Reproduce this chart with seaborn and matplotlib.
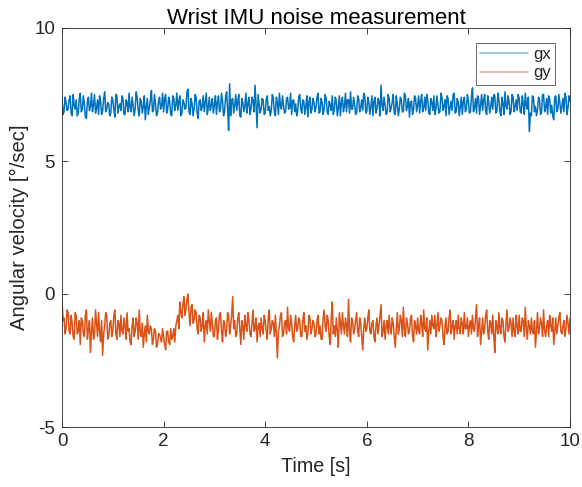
import numpy as np
import pandas as pd
import matplotlib
matplotlib.use("Agg")
import matplotlib.pyplot as plt
import seaborn as sns
from matplotlib.lines import Line2D

# ---- data ----
# samples at t = 0, 0.04, 0.08, ... 10.0
gx_even = [
    7.35, 6.85, 7.20, 6.95, 7.45, 6.70, 7.10, 7.30, 6.80, 7.55, 6.95, 7.15, 6.60, 7.40, 7.05, 6.85, 7.50, 7.00, 6.75, 7.25, 6.90, 7.60, 6.95, 7.15, 6.80,
    7.30, 6.65, 7.45, 7.05, 6.90, 7.35, 6.75, 7.20, 7.55, 6.85, 7.10, 6.95, 7.40, 6.70, 7.25, 7.05, 6.55, 7.35, 7.00, 7.65, 6.90, 7.15, 6.80, 7.40, 7.05,
    6.85, 7.50, 6.95, 7.25, 6.70, 7.35, 7.10, 6.90, 7.45, 6.80, 7.20, 7.00, 7.70, 6.75, 7.15, 6.95, 7.40, 6.60, 7.30, 7.05, 6.85, 7.55, 7.00, 6.90, 7.35,
    7.10, 6.75, 7.45, 6.95, 7.25, 6.85, 7.60, 6.15, 6.70, 7.35, 7.10, 6.90, 7.50, 6.65, 7.20, 7.05, 6.80, 7.40, 6.95, 7.25, 7.85, 6.25, 7.15, 6.95, 7.30,
    6.80, 7.45, 7.05, 6.90, 7.35, 6.70, 7.20, 7.55, 6.95, 7.10, 6.85, 7.40, 7.00, 6.75, 7.30, 7.15, 6.90, 7.50, 6.80, 7.25, 7.05, 6.65, 7.40, 6.95, 7.20,
    7.00, 7.55, 6.85, 7.20, 6.95, 7.35, 6.75, 7.10, 7.45, 6.90, 7.25, 7.00, 6.70, 7.40, 7.05, 6.85, 7.30, 7.60, 6.95, 7.15, 6.80, 7.35, 7.00, 6.90, 7.45,
    6.85, 7.20, 7.05, 6.70, 7.40, 6.95, 7.25, 7.85, 6.90, 7.10, 6.80, 7.35, 7.00, 7.50, 6.75, 7.15, 6.95, 7.30, 6.85, 7.45, 7.05, 6.65, 7.25, 6.95, 7.35,
    7.10, 6.80, 7.50, 7.00, 6.90, 7.30, 6.75, 7.20, 7.45, 6.95, 7.10, 6.85, 7.40, 7.05, 6.70, 7.35, 7.00, 6.90, 7.55, 6.85, 7.20, 7.05, 6.75, 7.40, 6.95,
    7.25, 6.85, 7.75, 7.00, 6.80, 7.35, 7.10, 6.90, 7.50, 6.75, 7.20, 7.05, 6.95, 7.45, 6.85, 7.30, 6.70, 7.15, 7.60, 6.95, 7.25, 6.85, 7.40, 7.05, 6.90,
    7.35, 6.80, 7.15, 7.55, 6.95, 6.10, 6.70, 7.40, 7.05, 6.90, 7.30, 6.85, 7.50, 7.00, 6.75, 7.35, 7.10, 6.55, 7.45, 6.95, 7.20, 7.05, 6.85, 7.40, 7.00,
    7.25,
]
# samples at t = 0.02, 0.06, ... 9.98
gx_odd = [
    6.75, 7.40, 6.90, 7.30, 6.80, 7.50, 6.95, 6.70, 7.35, 6.85, 7.45, 6.65, 7.25, 6.90, 7.55, 7.10, 6.80, 7.30, 7.45, 6.75, 7.35, 6.85, 7.20, 6.70, 7.40,
    6.95, 7.50, 6.80, 7.15, 7.45, 6.75, 7.30, 6.85, 7.00, 7.40, 6.70, 7.60, 6.90, 7.35, 6.80, 7.45, 7.05, 6.75, 7.30, 6.85, 7.50, 6.70, 7.25, 6.95, 7.55,
    7.35, 6.80, 7.40, 6.75, 7.45, 6.90, 7.55, 7.25, 6.70, 7.30, 6.95, 7.60, 6.85, 7.35, 6.70, 7.50, 6.80, 7.25, 6.90, 7.45, 7.20, 6.75, 7.40, 7.10, 6.80,
    7.45, 7.20, 6.85, 7.55, 6.70, 7.40, 6.95, 7.90, 7.30, 6.80, 7.50, 7.25, 6.70, 7.35, 6.85, 7.55, 7.15, 6.75, 7.40, 6.85, 7.10, 7.50, 6.80, 7.35, 6.75,
    7.30, 6.90, 6.70, 7.50, 6.85, 7.40, 6.75, 7.05, 7.45, 6.80, 7.35, 6.95, 7.55, 7.25, 6.85, 6.70, 7.40, 6.95, 7.30, 6.75, 7.45, 7.20, 6.80, 7.35, 6.85,
    7.40, 6.80, 7.35, 6.75, 7.50, 6.85, 7.25, 6.90, 6.75, 7.40, 6.70, 7.45, 7.20, 6.85, 7.55, 7.30, 6.80, 6.95, 7.40, 6.75, 7.45, 6.85, 7.30, 7.55, 6.80,
    7.40, 6.75, 7.45, 7.25, 6.80, 7.35, 6.70, 7.10, 7.40, 6.75, 7.50, 6.85, 7.20, 6.80, 7.45, 6.70, 7.40, 6.85, 7.55, 6.90, 7.35, 7.20, 6.75, 7.45, 6.85,
    7.45, 7.25, 6.85, 7.40, 7.50, 6.80, 7.35, 6.90, 6.75, 7.45, 6.80, 7.55, 6.90, 7.30, 7.45, 6.75, 7.25, 7.50, 6.80, 7.35, 6.70, 7.40, 7.25, 6.85, 7.50,
    6.80, 7.40, 6.85, 7.35, 7.45, 6.75, 7.50, 7.30, 6.85, 7.45, 6.80, 7.40, 7.50, 6.80, 7.55, 6.85, 7.40, 6.75, 7.05, 7.45, 6.75, 7.50, 6.85, 7.30, 7.50,
    6.85, 7.45, 6.75, 7.10, 7.40, 6.80, 7.45, 6.85, 6.70, 7.40, 6.75, 7.50, 6.85, 7.35, 7.45, 6.80, 6.70, 7.40, 6.85, 7.50, 6.80, 7.35, 7.55, 6.75, 7.45,
]
gy_even = [
    -0.20, -0.90, -1.30, -0.70, -1.50, -1.10, -1.70, -0.80, -1.40, -1.90, -1.00, -1.60, -0.60, -1.30, -2.20, -0.90, -1.50, -1.10, -0.70, -1.80, -2.30, -1.20, -0.80, -1.60, -1.00,
    -1.40, -0.60, -1.70, -1.10, -0.80, -1.50, -1.20, -0.70, -1.30, -1.90, -0.90, -1.40, -1.10, -0.60, -1.60, -2.00, -1.20, -0.80, -1.50, -1.30, -1.70, -1.40, -1.90, -1.50, -1.80,
    -1.60, -2.10, -1.40, -1.90, -1.70, -1.30, -1.20, -0.80, -0.30, -0.90, -0.10, -0.60, 0.00, -1.20, -0.40, -1.00, -0.70, -1.50, -0.90, -1.20, -1.80, -1.00, -0.60, -1.40, -1.10,
    -1.60, -0.90, -1.30, -0.70, -1.80, -1.10, -1.40, -0.80, -1.20, -0.10, -1.00, -1.50, -0.70, -1.90, -1.20, -0.80, -1.40, -1.00, -1.60, -0.60, -1.30, -1.80, -1.10, -0.90, -1.50,
    -1.00, -1.70, -0.60, -1.30, -1.10, -0.80, -2.40, -1.20, -0.70, -1.50, -1.00, -0.50, -1.40, -1.10, -1.80, -0.80, -1.30, -1.00, -1.60, -0.70, -1.20, -1.50, -0.90, -1.30, -1.10,
    -1.50, -0.80, -1.20, -1.70, -0.60, -1.40, -1.00, -1.90, -0.30, -1.20, -0.90, -2.00, -1.10, -0.70, -1.50, -1.20, -0.20, -1.80, -1.00, -1.30, -0.70, -1.60, -1.10, -2.10, -0.90,
    -1.30, -0.60, -1.50, -1.00, -1.80, -0.90, -1.20, -0.40, -1.40, -1.70, -1.00, -0.80, -1.50, -1.10, -2.00, -0.70, -1.30, -1.00, -0.50, -1.60, -1.10, -1.40, -0.80, -1.80, -1.20,
    -0.90, -1.50, -1.10, -0.60, -1.40, -2.10, -1.00, -0.80, -1.30, -1.60, -0.70, -1.20, -1.00, -1.90, -0.90, -1.40, -0.60, -1.20, -1.70, -1.00, -0.80, -1.50, -1.10, -0.70, -1.30,
    -1.60, -1.00, -0.80, -1.40, -0.40, -1.20, -1.90, -0.90, -1.30, -0.60, -1.70, -1.10, -0.80, -2.20, -1.20, -0.70, -1.50, -1.00, -1.80, -0.60, -1.30, -1.10, -0.90, -1.60, -1.20,
    -0.80, -1.40, -1.00, -0.50, -1.70, -1.20, -0.90, -1.50, -2.00, -0.70, -1.30, -1.10, -0.60, -1.60, -1.00, -0.80, -1.40, -1.90, -0.90, -1.20, -0.70, -1.50, -1.00, -1.30, -1.10,
    -0.90,
]
gy_odd = [
    -1.00, -1.50, -0.60, -1.40, -0.80, -1.60, -0.70, -1.50, -1.00, -0.90, -1.50, -0.80, -1.70, -1.00, -1.40, -1.70, -0.60, -1.60, -1.40, -1.00, -1.50, -0.70, -1.70, -1.10, -1.60,
    -0.80, -1.50, -1.00, -1.60, -1.40, -0.90, -1.70, -1.40, -1.80, -1.20, -1.60, -0.90, -1.70, -1.40, -1.10, -1.50, -1.80, -1.40, -1.20, -1.90, -1.30, -2.00, -1.50, -1.70, -1.30,
    -1.90, -1.40, -1.80, -1.30, -1.60, -1.80, -1.00, -1.30, -0.70, -0.40, -0.80, -0.20, -0.70, -0.50, -1.10, -0.60, -1.30, -0.80, -1.40, -0.70, -1.20, -1.50, -1.00, -0.70, -1.60,
    -1.00, -1.70, -0.80, -1.40, -1.00, -1.60, -0.70, -1.50, -0.80, -1.30, -1.60, -0.90, -1.30, -1.00, -1.70, -1.20, -0.70, -1.50, -1.10, -1.40, -0.90, -1.20, -1.60, -1.30, -0.80,
    -1.40, -0.90, -1.50, -1.00, -1.60, -1.50, -1.40, -0.80, -1.60, -1.10, -1.50, -1.30, -0.80, -1.60, -1.20, -1.40, -0.90, -1.60, -1.00, -1.40, -1.70, -0.80, -1.50, -1.00, -1.60,
    -1.00, -1.50, -1.70, -0.90, -1.20, -0.80, -1.60, -0.90, -1.50, -1.60, -1.40, -0.70, -1.50, -1.20, -0.90, -1.60, -1.40, -0.90, -1.50, -1.00, -1.40, -0.90, -1.60, -1.30, -1.40,
    -0.90, -1.40, -1.10, -1.60, -1.20, -1.50, -0.80, -1.60, -1.00, -1.20, -1.50, -1.30, -0.90, -1.60, -1.30, -1.50, -0.80, -1.60, -1.30, -0.90, -1.50, -0.90, -1.60, -1.00, -1.50,
    -1.40, -0.80, -1.60, -1.30, -0.90, -1.40, -1.50, -1.20, -0.80, -1.20, -1.40, -0.90, -1.60, -1.20, -1.50, -0.90, -1.50, -1.00, -1.20, -1.50, -1.30, -0.90, -1.50, -1.30, -0.90,
    -1.20, -1.50, -1.30, -0.90, -1.60, -0.90, -1.40, -1.50, -0.80, -1.40, -1.00, -1.50, -1.60, -1.00, -1.50, -1.30, -0.90, -1.60, -1.10, -1.40, -0.90, -1.60, -1.40, -0.80, -1.50,
    -1.40, -0.90, -1.60, -1.30, -1.00, -1.50, -1.40, -1.00, -1.40, -1.50, -0.90, -1.60, -1.40, -1.20, -1.60, -1.20, -0.90, -1.40, -1.50, -0.90, -1.40, -1.20, -1.60, -0.80, -1.50,
]
time_step = 0.02
series_names = ["gx", "gy"]
series_colors = ["#0072BD", "#D95319"]
x_ticks = [0, 2, 4, 6, 8, 10]
y_ticks = [-5, 0, 5, 10]


def interleave(even, odd):
    out = []
    for i, v in enumerate(even):
        out.append(v)
        if i < len(odd):
            out.append(odd[i])
    return out


gx = interleave(gx_even, gx_odd)
gy = interleave(gy_even, gy_odd)
time = np.arange(len(gx)) * time_step

df = pd.DataFrame({
    "Time": np.concatenate([time, time]),
    "Value": np.concatenate([gx, gy]),
    "Series": [series_names[0]] * len(gx) + [series_names[1]] * len(gy),
})

sns.set_style("white")
plt.rcParams["font.family"] = ["Liberation Sans", "DejaVu Sans"]

fig = plt.figure(figsize=(5.82, 4.87), dpi=100)
ax = fig.add_axes([62 / 582, 60 / 487, 508 / 582, 399 / 487])

sns.lineplot(data=df, x="Time", y="Value", hue="Series",
             palette=dict(zip(series_names, series_colors)),
             linewidth=1.1, ax=ax, legend=False, estimator=None, sort=False)

ax.set_xlim(0, 10)
ax.set_ylim(-5, 10)
ax.set_xticks(x_ticks)
ax.set_yticks(y_ticks)
ax.set_xticklabels([str(v) for v in x_ticks])
ax.set_yticklabels([str(v) for v in y_ticks])
ax.tick_params(direction="in", length=4, width=0.6, color="#262626",
               labelsize=13.5, labelcolor="#262626", top=True, right=True,
               bottom=True, left=True)
ax.tick_params(axis="x", pad=4)
ax.tick_params(axis="y", pad=5)
for s in ax.spines.values():
    s.set_color("#262626")
    s.set_linewidth(0.6)

ax.set_xlabel("Time [s]", fontsize=14.2, color="#262626", labelpad=5)
ax.set_ylabel("Angular velocity [°/sec]", fontsize=14.6, color="#262626", labelpad=4)
ax.set_title("Wrist IMU noise measurement", fontsize=16, color="#000000", pad=3)

handles = [Line2D([], [], color=c, lw=1.2, alpha=0.45) for c in series_colors]
leg = ax.legend(handles, series_names, loc="upper right", fontsize=12,
                frameon=True, fancybox=False, handlelength=2.9,
                borderaxespad=0.9, labelspacing=0.2, borderpad=0.25,
                handletextpad=0.3)
leg.get_frame().set_edgecolor("#262626")
leg.get_frame().set_linewidth(0.6)

fig.savefig("out.png", dpi=100)
